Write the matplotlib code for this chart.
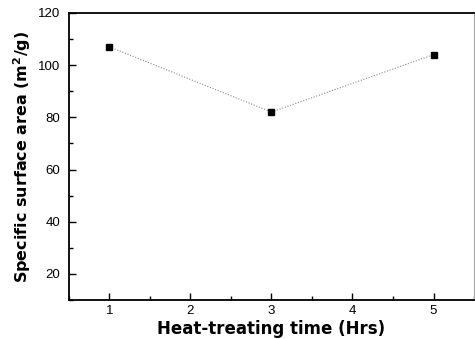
import numpy as np
import matplotlib
matplotlib.use('Agg')
import matplotlib.pyplot as plt
from matplotlib.ticker import MultipleLocator

# heat-treating time (hours) vs. specific surface area (m2/g)
hours = [1, 3, 5]
area = [107, 82, 104]

plt.rcParams['font.family'] = ['Liberation Sans', 'DejaVu Sans']

fig = plt.figure(figsize=(4.75, 3.39), dpi=100)
ax = fig.add_axes([0.145, 0.115, 0.853, 0.847])

ax.plot(hours, area, color='#888888', linestyle=(0, (1, 1.5)), linewidth=0.8)
ax.plot(hours, area, linestyle='none', marker='s', markersize=5, color='black')

ax.set_xlim(0.5, 5.5)
ax.set_ylim(10, 120)
ax.xaxis.set_major_locator(MultipleLocator(1))
ax.xaxis.set_minor_locator(MultipleLocator(0.5))
ax.yaxis.set_major_locator(MultipleLocator(20))
ax.yaxis.set_minor_locator(MultipleLocator(10))
ax.tick_params(which='both', direction='in', labelsize=9.5, width=1)
ax.tick_params(which='major', length=5)
ax.tick_params(which='minor', length=3)
ax.tick_params(axis='y', pad=6)
ax.set_yticks([20, 40, 60, 80, 100, 120])

for side in ['left', 'bottom', 'top']:
    ax.spines[side].set_linewidth(1.3)
ax.spines['right'].set_linewidth(0.8)
ax.spines['right'].set_color('#aaaaaa')

ax.set_xlabel('Heat-treating time (Hrs)', fontsize=12, fontweight='bold', family='DejaVu Sans', labelpad=2)
ax.set_ylabel('Specific surface area (m$^{\\mathbf{2}}$/g)', fontsize=11.5, fontweight='bold', family='DejaVu Sans', labelpad=4)

fig.savefig('out.png', dpi=100)
